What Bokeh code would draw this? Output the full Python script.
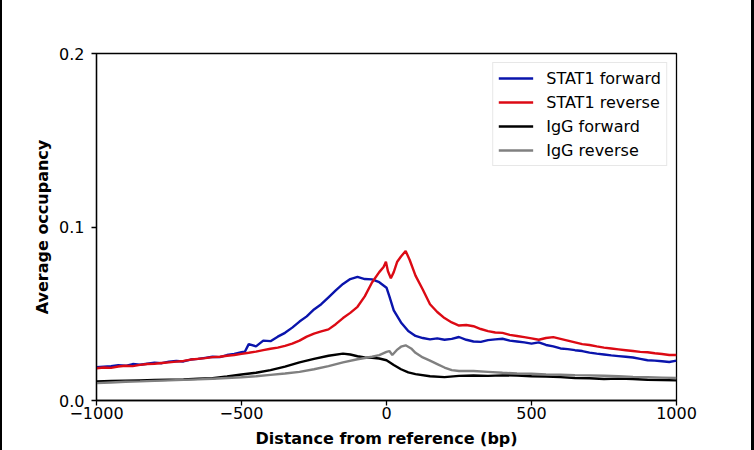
from bokeh.plotting import figure
from bokeh.models import FixedTicker, Legend, LegendItem
from bokeh.embed import file_html
from bokeh.resources import INLINE

# ---- data ----
stat1_fwd_x = [-1000, -975, -950, -925, -900, -875, -850, -825, -800, -775, -750, -725, -700, -675,
               -650, -625, -600, -575, -550, -525, -500, -488, -475, -450, -425, -400, -375, -350,
               -325, -300, -275, -250, -225, -200, -175, -150, -125, -100, -75, -50, -25, 0, 10,
               25, 50, 75, 100, 125, 150, 175, 200, 225, 250, 275, 300, 325, 350, 375, 400, 425,
               450, 475, 500, 525, 550, 575, 600, 625, 650, 675, 700, 725, 750, 775, 800, 825, 850,
               875, 900, 925, 950, 975, 1000]
stat1_fwd_y = [0.0192, 0.0195, 0.0198, 0.0203, 0.0200, 0.0210, 0.0206, 0.0212, 0.0218, 0.0215,
               0.0224, 0.0228, 0.0225, 0.0236, 0.0240, 0.0246, 0.0252, 0.0250, 0.0262, 0.0268,
               0.0278, 0.0282, 0.0325, 0.0312, 0.0345, 0.0342, 0.0368, 0.0390, 0.0420, 0.0455,
               0.0485, 0.0525, 0.0555, 0.0595, 0.0635, 0.0672, 0.0700, 0.0712, 0.0700, 0.0698,
               0.0682, 0.0650, 0.0600, 0.0520, 0.0450, 0.0400, 0.0372, 0.0360, 0.0352, 0.0358,
               0.0350, 0.0355, 0.0366, 0.0350, 0.0340, 0.0338, 0.0348, 0.0352, 0.0356, 0.0345,
               0.0340, 0.0335, 0.0328, 0.0335, 0.0320, 0.0312, 0.0300, 0.0296, 0.0290, 0.0285,
               0.0276, 0.0270, 0.0265, 0.0260, 0.0256, 0.0252, 0.0248, 0.0240, 0.0232, 0.0230,
               0.0226, 0.0222, 0.0230]

stat1_rev_x = [-1000, -975, -950, -925, -900, -875, -850, -825, -800, -775, -750, -725, -700, -675,
               -650, -625, -600, -575, -550, -525, -500, -475, -450, -425, -400, -375, -350, -325,
               -300, -275, -250, -225, -200, -175, -150, -125, -100, -75, -50, -25, -10, -2, 5, 15,
               25, 37, 50, 66, 80, 100, 125, 150, 175, 200, 225, 250, 275, 300, 325, 350, 375, 400,
               425, 450, 475, 500, 525, 550, 575, 600, 625, 650, 675, 700, 725, 750, 775, 800, 825,
               850, 875, 900, 925, 950, 975, 1000]
stat1_rev_y = [0.0186, 0.0190, 0.0188, 0.0196, 0.0200, 0.0198, 0.0205, 0.0210, 0.0212, 0.0216,
               0.0220, 0.0224, 0.0228, 0.0236, 0.0240, 0.0244, 0.0250, 0.0252, 0.0258, 0.0262,
               0.0269, 0.0275, 0.0282, 0.0290, 0.0298, 0.0305, 0.0315, 0.0328, 0.0345, 0.0368,
               0.0385, 0.0398, 0.0410, 0.0440, 0.0475, 0.0505, 0.0540, 0.0600, 0.0680, 0.0740,
               0.0770, 0.0800, 0.0745, 0.0705, 0.0740, 0.0800, 0.0830, 0.0862, 0.0810, 0.0720,
               0.0640, 0.0555, 0.0510, 0.0475, 0.0450, 0.0432, 0.0435, 0.0428, 0.0412, 0.0400,
               0.0392, 0.0390, 0.0378, 0.0372, 0.0365, 0.0358, 0.0350, 0.0360, 0.0365, 0.0355,
               0.0345, 0.0335, 0.0325, 0.0320, 0.0312, 0.0305, 0.0300, 0.0295, 0.0290, 0.0285,
               0.0280, 0.0278, 0.0272, 0.0268, 0.0262, 0.0262]

igg_fwd_x = [-1000, -950, -900, -850, -800, -750, -700, -650, -600, -550, -500, -450, -400, -350,
             -300, -250, -200, -150, -125, -100, -75, -50, -25, 0, 25, 50, 75, 100, 150, 200, 250,
             300, 350, 400, 450, 500, 550, 600, 650, 700, 750, 800, 850, 900, 950, 1000]
igg_fwd_y = [0.0110, 0.0112, 0.0114, 0.0116, 0.0118, 0.0120, 0.0122, 0.0125, 0.0128, 0.0138,
             0.0150, 0.0160, 0.0175, 0.0195, 0.0220, 0.0240, 0.0258, 0.0270, 0.0265, 0.0255,
             0.0248, 0.0246, 0.0242, 0.0232, 0.0205, 0.0180, 0.0162, 0.0152, 0.0140, 0.0135,
             0.0142, 0.0144, 0.0142, 0.0145, 0.0144, 0.0140, 0.0138, 0.0135, 0.0130, 0.0128,
             0.0124, 0.0126, 0.0124, 0.0120, 0.0118, 0.0116]

igg_rev_x = [-1000, -950, -900, -850, -800, -750, -700, -650, -600, -550, -500, -450, -400, -350,
             -300, -250, -200, -150, -100, -50, -25, 0, 10, 20, 35, 50, 66, 85, 100, 125, 150,
             175, 200, 225, 250, 300, 350, 400, 450, 500, 550, 600, 650, 700, 750, 800, 850, 900,
             950, 1000]
igg_rev_y = [0.0100, 0.0104, 0.0108, 0.0110, 0.0113, 0.0116, 0.0119, 0.0122, 0.0125, 0.0130,
             0.0134, 0.0140, 0.0148, 0.0156, 0.0165, 0.0180, 0.0198, 0.0220, 0.0238, 0.0252,
             0.0262, 0.0280, 0.0285, 0.0262, 0.0290, 0.0310, 0.0318, 0.0300, 0.0275, 0.0248,
             0.0230, 0.0210, 0.0190, 0.0175, 0.0170, 0.0170, 0.0165, 0.0160, 0.0156, 0.0154,
             0.0150, 0.0148, 0.0146, 0.0145, 0.0143, 0.0140, 0.0136, 0.0134, 0.0132, 0.0130]

series_labels = ["STAT1 forward", "STAT1 reverse", "IgG forward", "IgG reverse"]
series_colors = ["#0a14ac", "#dc0a14", "#000000", "#808080"]
x_ticks = [-1000, -500, 0, 500, 1000]
x_tick_labels = ["\u22121000", "\u2212500", "0", "500", "1000"]
y_ticks = [0.0, 0.1, 0.2]
y_tick_labels = ["0.0", "0.1", "0.2"]
x_title = "Distance from reference (bp)"
y_title = "Average occupancy"

FONT = "DejaVu Sans"

p = figure(width=754, height=450, output_backend="svg", toolbar_location=None,
           x_range=(-1000, 1000), y_range=(0.0, 0.2),
           min_border_left=94, min_border_right=80, min_border_top=53, min_border_bottom=50)
p.styles = {"border-left": "2px solid black", "border-right": "3px solid black"}
p.grid.visible = False
p.outline_line_color = "black"
p.outline_line_width = 1.3
p.background_fill_color = "white"
p.border_fill_color = "white"

renderers = []
for xs, ys, c in [(stat1_fwd_x, stat1_fwd_y, series_colors[0]),
                  (stat1_rev_x, stat1_rev_y, series_colors[1]),
                  (igg_fwd_x, igg_fwd_y, series_colors[2]),
                  (igg_rev_x, igg_rev_y, series_colors[3])]:
    renderers.append(p.line(xs, ys, line_color=c, line_width=2.4))

for ax in (p.xaxis[0], p.yaxis[0]):
    ax.axis_line_color = "black"
    ax.axis_line_width = 1.3
    ax.major_tick_line_color = "black"
    ax.major_tick_line_width = 1.3
    ax.major_tick_out = 5
    ax.major_tick_in = 0
    ax.minor_tick_line_color = None
    ax.major_label_text_font = FONT
    ax.major_label_text_font_size = "16px"
    ax.major_label_text_color = "black"
    ax.axis_label_text_font = FONT
    ax.axis_label_text_font_size = "16px"
    ax.axis_label_text_font_style = "bold"
    ax.axis_label_text_color = "black"

p.xaxis[0].ticker = FixedTicker(ticks=x_ticks)
p.xaxis[0].major_label_overrides = dict(zip(x_ticks, x_tick_labels))
p.xaxis[0].axis_label = x_title
p.xaxis[0].major_label_standoff = 1
p.xaxis[0].axis_label_standoff = 7

p.yaxis[0].ticker = FixedTicker(ticks=y_ticks)
p.yaxis[0].major_label_overrides = dict(zip(y_ticks, y_tick_labels))
p.yaxis[0].axis_label = y_title
p.yaxis[0].major_label_standoff = 7
p.yaxis[0].axis_label_standoff = 4

legend = Legend(items=[LegendItem(label=l, renderers=[r]) for l, r in zip(series_labels, renderers)],
                location="top_right")
legend.margin = 9
legend.padding = 5
legend.spacing = 4
legend.glyph_width = 35
legend.glyph_height = 20
legend.label_height = 20
legend.label_standoff = 13
legend.label_text_font = FONT
legend.label_text_font_size = "16px"
legend.label_text_color = "black"
legend.border_line_color = "#d0d0d0"
legend.border_line_width = 1
legend.background_fill_alpha = 0.8
p.add_layout(legend)

open("out.html", "w").write(file_html(p, INLINE))
